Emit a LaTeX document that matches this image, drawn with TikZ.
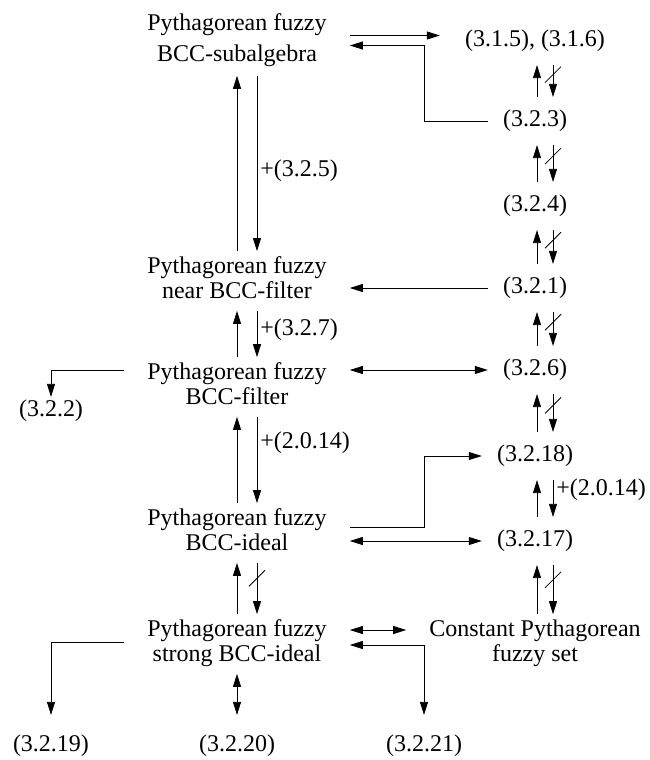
\documentclass[tikz,border=0pt]{standalone}
\usepackage{fontspec}
\setmainfont{Liberation Serif}
\usetikzlibrary{arrows.meta,calc}

\begin{document}
\begin{tikzpicture}[x=1pt,y=-1pt,
    font=\fontsize{24}{25}\selectfont,
    pf/.style={align=center,inner xsep=23pt,inner ysep=5pt,
        execute at begin node=\rule{0pt}{21pt},execute at end node=\strut},
    cond/.style={inner xsep=15pt,inner ysep=13pt},
    res/.style={inner xsep=15pt,inner ysep=20pt},
    lbl/.style={right,inner xsep=3pt},
    arr/.style={line width=0.8pt,-{Triangle[length=13pt,width=8pt]}},
    dbl/.style={line width=0.8pt,{Triangle[length=13pt,width=8pt]}-{Triangle[length=13pt,width=8pt]}},
    slash/.style={line width=0.8pt}]
    \useasboundingbox (0,0) rectangle (650,760);

    % left column
    \node[pf,font=\fontsize{24}{31}\selectfont] (sub) at (237,42) {Pythagorean fuzzy\\BCC-subalgebra};
    \node[pf] (near) at (237,281) {Pythagorean fuzzy\\near BCC-filter};
    \node[pf] (filt) at (237,387) {Pythagorean fuzzy\\BCC-filter};
    \node[pf] (ideal) at (237,533) {Pythagorean fuzzy\\BCC-ideal};
    \node[pf] (strong) at (237,644) {Pythagorean fuzzy\\strong BCC-ideal};

    % right column
    \node[cond,inner xsep=25pt] (c315) at (535,41) {(3.1.5), (3.1.6)};
    \node[cond] (c323) at (535,121) {(3.2.3)};
    \node[cond] (c324) at (535,206) {(3.2.4)};
    \node[cond] (c321) at (535,288) {(3.2.1)};
    \node[cond] (c326) at (535,370) {(3.2.6)};
    \node[cond] (c3218) at (535,456) {(3.2.18)};
    \node[cond] (c3217) at (535,541) {(3.2.17)};
    \node[pf] (const) at (535,644) {Constant Pythagorean\\fuzzy set};

    % results
    \node[cond,inner ysep=3pt] (c322) at (51,411) {(3.2.2)};
    \node[res] (c3219) at (51,746) {(3.2.19)};
    \node[res] (c3220) at (237,746) {(3.2.20)};
    \node[res] (c3221) at (424,746) {(3.2.21)};

    % left pairs
    \draw[arr] (near.north) -- (sub.south);
    \draw[arr] ([xshift=20pt]sub.south) -- node[lbl,pos=.54] {+(3.2.5)} ([xshift=20pt]near.north);
    \draw[arr] (filt.north) -- (near.south);
    \draw[arr] ([xshift=20pt]near.south) -- node[lbl,pos=.4] {+(3.2.7)} ([xshift=20pt]filt.north);
    \draw[arr] (ideal.north) -- (filt.south);
    \draw[arr] ([xshift=20pt]filt.south) -- node[lbl,pos=.3] {+(2.0.14)} ([xshift=20pt]ideal.north);
    \draw[arr] (strong.north) -- (ideal.south);
    \draw[arr] ([xshift=20pt]ideal.south) -- ([xshift=20pt]strong.north) coordinate[pos=.3] (m);
    \draw[slash] ([shift={(-8pt,-8pt)}]m) -- ([shift={(8pt,8pt)}]m);

    % right pairs
    \foreach \a/\b in {c315/c323,c323/c324,c324/c321,c321/c326,c326/c3218,c3217/const} {
        \draw[arr] ([xshift=2pt]\b.north) -- ([xshift=2pt]\a.south);
        \draw[arr] ([xshift=18pt]\a.south) -- ([xshift=18pt]\b.north) coordinate[pos=.3] (m);
        \draw[slash] ([shift={(-8pt,-8pt)}]m) -- ([shift={(8pt,8pt)}]m);
    }
    \draw[arr] ([xshift=2pt]c3217.north) -- ([xshift=2pt]c3218.south);
    \draw[arr] ([xshift=18pt]c3218.south) -- node[lbl,pos=.25] {+(2.0.14)} ([xshift=18pt]c3217.north);

    % across
    \draw[arr] ([yshift=6.5pt]sub.east) -- ([yshift=6.5pt]sub.east -| c315.west);
    \draw[arr] (c323.west) -| ([yshift=-3.5pt]sub.east -| c3221) -- ([yshift=-3.5pt]sub.east);
    \draw[arr] (c321.west) -- (c321.west -| near.east);
    \draw[dbl] (c326.west -| filt.east) -- (c326.west);
    \draw[arr] (filt.west |- c326) -| (c322.north);
    \draw[arr] ([yshift=6pt]ideal.east) -| (c3221 |- c3218) -- (c3218.west);
    \draw[dbl] (c3217.west -| ideal.east) -- (c3217.west);
    \draw[dbl] ([yshift=14pt]strong.east) -- ([yshift=14pt]const.west);
    \draw[dbl] ([yshift=-1pt]strong.east) -| (c3221.north);
    \draw[arr] ([yshift=2pt]strong.west) -| (c3219.north);
    \draw[dbl] (strong.south) -- (c3220.north);
\end{tikzpicture}
\end{document}
